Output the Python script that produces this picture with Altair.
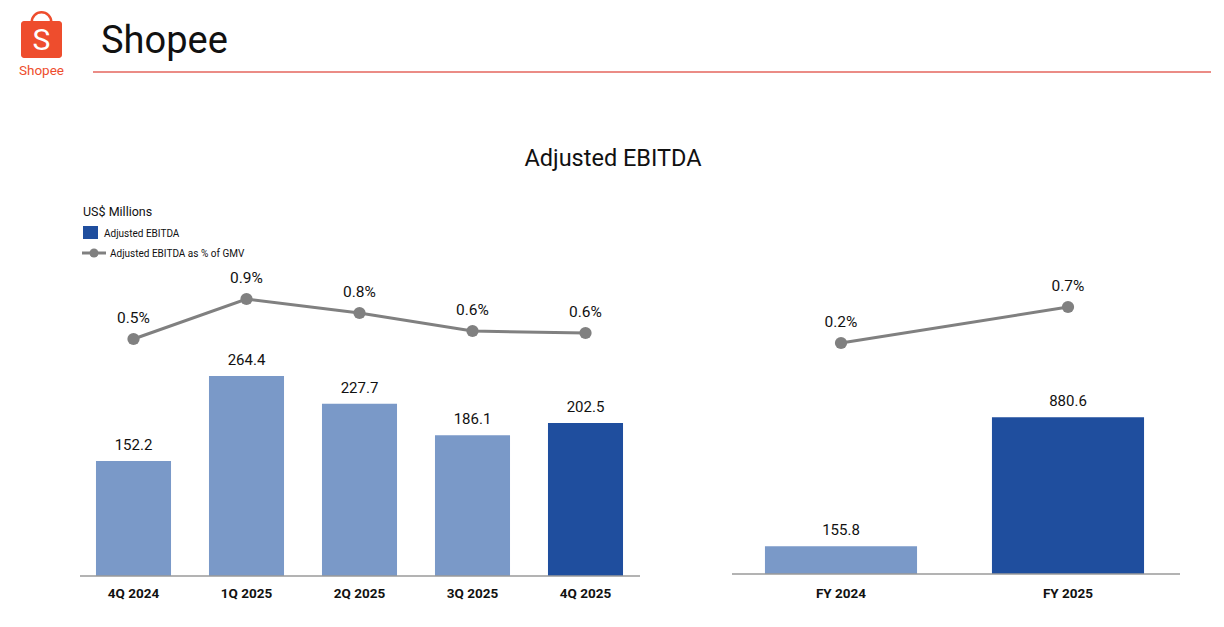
import altair as alt
import pandas as pd

# ---------------- data ----------------
quarters = ["4Q 2024", "1Q 2025", "2Q 2025", "3Q 2025", "4Q 2025"]
q_ebitda = [152.2, 264.4, 227.7, 186.1, 202.5]
q_pct = [0.50, 0.90, 0.76, 0.58, 0.56]
q_kind = ["prior", "prior", "prior", "prior", "current"]

years = ["FY 2024", "FY 2025"]
y_ebitda = [155.8, 880.6]
y_pct = [0.20, 0.70]
y_kind = ["prior", "current"]

LIGHT = "#7A99C8"
DARK = "#1F4E9E"
GRAY = "#808080"
ORANGE = "#EE4D2D"
FONT = "Roboto"

OFF = 8  # page margin


def px(v):
    return v - OFF


q_df = pd.DataFrame({"period": quarters, "ebitda": q_ebitda, "pct": q_pct, "kind": q_kind})
y_df = pd.DataFrame({"period": years, "ebitda": y_ebitda, "pct": y_pct, "kind": y_kind})
dummy = alt.Data(values=[{}])


def panel(df, x_range, pad, bar_dom, bar_range, pct_dom, pct_range, axis_x, axis_y):
    base = alt.Chart(df)
    x = alt.X("period:N", sort=list(df["period"]),
              scale=alt.Scale(range=x_range, paddingInner=pad, paddingOuter=pad / 2),
              axis=None)
    yb = alt.Y("ebitda:Q", scale=alt.Scale(domain=bar_dom, range=bar_range, nice=False), axis=None)
    yp = alt.Y("pct:Q", scale=alt.Scale(domain=pct_dom, range=pct_range, nice=False, zero=False), axis=None)
    color = alt.Color("kind:N", scale=alt.Scale(domain=["prior", "current"], range=[LIGHT, DARK]), legend=None)
    bars = base.mark_bar().encode(x=x, y=yb, color=color)
    bar_txt = base.mark_text(baseline="bottom", dy=-8, fontSize=15, font=FONT, color="#111").encode(
        x=x, y=yb, text=alt.Text("ebitda:Q", format=".1f"))
    line = base.mark_line(color=GRAY, strokeWidth=3).encode(x=x, y=yp)
    pts = base.mark_circle(color=GRAY, size=150, opacity=1).encode(x=x, y=yp)
    pct_txt = base.transform_calculate(lbl="format(datum.pct, '.1f') + '%'").mark_text(
        baseline="bottom", dy=-13, fontSize=15.5, font=FONT, color="#111").encode(
        x=x, y=yp, text="lbl:N")
    cat_txt = base.mark_text(fontSize=13.5, fontWeight="bold", font=FONT, color="#111").encode(
        x=x, y=alt.value(px(594)), text="period:N")
    axis = alt.Chart(dummy).mark_rule(color="#9a9a9a", strokeWidth=1.5).encode(
        x=alt.value(px(axis_x[0])), x2=alt.value(px(axis_x[1])), y=alt.value(px(axis_y)))
    return [bars, bar_txt, line, pts, pct_txt, axis, cat_txt]


left = panel(q_df, [px(77), px(642)], 0.336, [0, 300], [px(576), px(576) - 0.756 * 300],
             [0, 1], [px(389), px(289)], (80, 640), 576)
right = panel(y_df, [px(727.5), px(1181.5)], 0.33, [0, 1000], [px(574), px(574) - 178],
              [0, 1], [px(357.4), px(285.4)], (732, 1180), 574)


def txt(s, x, y, size, color="#111", weight="normal", align="left", baseline="alphabetic"):
    return alt.Chart(dummy).mark_text(text=s, fontSize=size, color=color, fontWeight=weight,
                                      align=align, baseline=baseline, font=FONT).encode(
        x=alt.value(px(x)), y=alt.value(px(y)))


# header
header = [
    alt.Chart(dummy).mark_rect(color=ORANGE, cornerRadius=3).encode(
        x=alt.value(px(21)), x2=alt.value(px(62)), y=alt.value(px(21)), y2=alt.value(px(58))),
    alt.Chart(dummy).mark_arc(color=ORANGE, radius=11, radius2=8.5, theta=4.712, theta2=7.854).encode(
        x=alt.value(px(41.5)), y=alt.value(px(22))),
    txt("S", 41.5, 41, 30, color="white", align="center", baseline="middle"),
    txt("Shopee", 41.5, 75, 13.5, color=ORANGE, align="center"),
    txt("Shopee", 101, 53, 38),
    alt.Chart(dummy).mark_rule(color="#E4665E", strokeWidth=1.5).encode(
        x=alt.value(px(93)), x2=alt.value(px(1211)), y=alt.value(px(72))),
    txt("Adjusted EBITDA", 613, 166, 23.5, align="center"),
]

legend = [
    txt("US$ Millions", 83, 216, 12.5),
    alt.Chart(dummy).mark_rect(color=DARK).encode(
        x=alt.value(px(83)), x2=alt.value(px(98)), y=alt.value(px(226)), y2=alt.value(px(239))),
    txt("Adjusted EBITDA", 104, 237, 10),
    alt.Chart(dummy).mark_rule(color=GRAY, strokeWidth=3).encode(
        x=alt.value(px(82)), x2=alt.value(px(106)), y=alt.value(px(253))),
    alt.Chart(dummy).mark_circle(color=GRAY, size=80, opacity=1).encode(
        x=alt.value(px(94)), y=alt.value(px(253))),
    txt("Adjusted EBITDA as % of GMV", 110, 257, 10),
]

chart = alt.layer(*header, *legend, *left, *right).resolve_scale(
    x="independent", y="independent", color="independent"
).properties(
    width=1208, height=611, padding=0, autosize=alt.AutoSizeParams(type="none"),
    background="white"
).configure_view(stroke=None)

chart.save("out.html", embed_options={"renderer": "svg", "actions": False})
